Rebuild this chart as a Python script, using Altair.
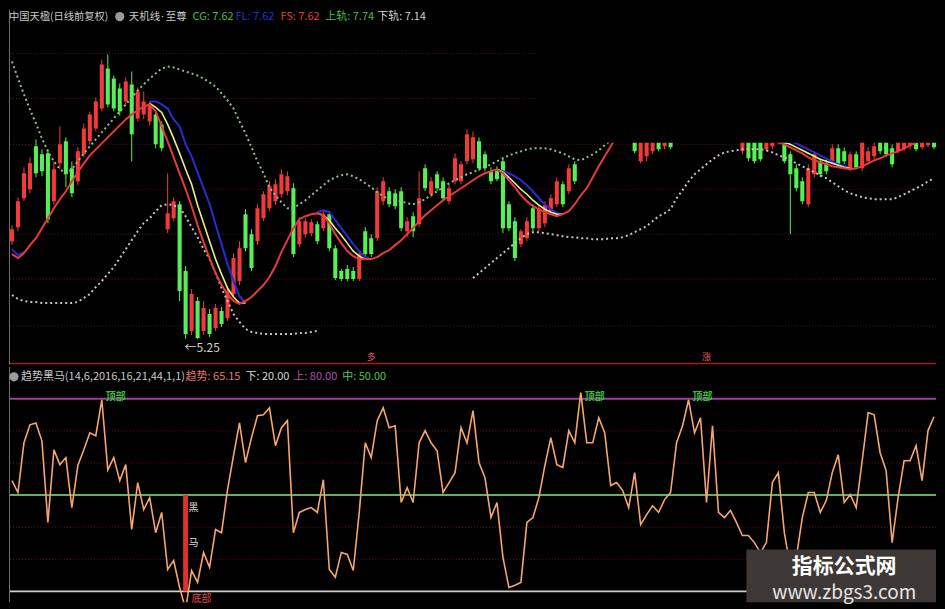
import altair as alt
import pandas as pd

# ---------------- page background (black body instead of white margin) ----------------
try:
    import altair.utils.html as _ah
    for _key, _tpl in list(getattr(_ah, "TEMPLATES", {}).items()):
        _r0 = _tpl.render

        def _wrapped(*a, _r=_r0, **k):
            out = _r(*a, **k)
            return out.replace(
                "</head>",
                "<style>html,body{background:#000 !important;overflow:hidden;}</style></head>", 1)
        _tpl.render = _wrapped
except Exception:
    pass

FONT = "Noto Sans CJK SC"

# ---------------- top panel data: daily candles (yuan) ----------------
run_starts = [0, 104, 122]
run_lengths = [95, 7, 33]

open_px = [
    6.23, 6.37, 6.66, 6.75, 7.18, 7.10, 7.11, 6.63, 7.01, 7.23,
    6.96, 6.83, 7.10, 7.23, 7.36, 7.56, 7.96, 7.86, 7.76, 7.63,
    7.80, 7.46, 7.50, 7.43, 7.50, 7.40, 6.35, 6.46, 6.60, 5.93,
    5.33, 5.63, 5.33, 5.50, 5.36, 5.53, 5.46, 5.70, 5.83, 6.50,
    6.30, 6.23, 6.46, 6.56, 6.63, 6.70, 6.73, 6.76, 6.20, 6.30,
    6.31, 6.40, 6.36, 6.50, 6.16, 5.93, 5.95, 5.93, 5.85, 6.33,
    6.26, 6.26, 6.63, 6.73, 6.71, 6.73, 6.33, 6.48, 6.40, 6.96,
    6.70, 6.90, 6.83, 6.63, 6.83, 6.83, 7.03, 7.05, 7.23, 7.10,
    6.93, 6.93, 7.03, 6.60, 6.43, 6.20, 6.26, 6.56, 6.36, 6.41,
    6.53, 6.60, 6.80, 6.73, 7.00,
    7.28, 7.03, 7.08, 7.13, 7.28, 7.18, 7.33,
    7.13, 7.25, 7.23, 7.25, 7.15, 7.18, 7.23, 7.28, 7.10, 6.96,
    6.83, 6.60, 6.90, 7.03, 7.01, 7.03, 7.16, 7.13, 6.95, 7.10,
    6.96, 7.03, 7.08, 7.25, 7.23, 7.16, 7.13, 7.15, 7.18, 7.25,
    7.17, 7.19, 7.27,
]
close_px = [
    6.35, 6.63, 6.91, 7.01, 6.91, 6.93, 6.45, 6.95, 7.20, 6.90,
    6.71, 7.13, 7.36, 7.50, 7.63, 8.00, 7.60, 7.56, 7.53, 7.83,
    7.30, 7.73, 7.63, 7.60, 7.20, 7.16, 6.51, 6.63, 5.73, 5.30,
    5.70, 5.26, 5.56, 5.30, 5.56, 5.40, 5.73, 6.06, 6.16, 6.16,
    5.96, 6.56, 6.70, 6.78, 6.80, 6.90, 6.88, 6.10, 6.43, 6.43,
    6.42, 6.23, 6.50, 6.16, 5.86, 5.85, 5.85, 5.85, 6.10, 6.10,
    6.10, 6.73, 6.83, 6.60, 6.58, 6.36, 6.43, 6.33, 6.66, 6.76,
    6.83, 6.76, 6.66, 6.76, 7.06, 7.00, 7.30, 7.27, 6.96, 6.96,
    6.83, 6.85, 6.36, 6.36, 6.06, 6.33, 6.43, 6.36, 6.56, 6.59,
    6.66, 6.83, 6.60, 6.96, 6.83,
    7.13, 7.28, 7.33, 7.33, 7.15, 7.33, 7.17,
    7.28, 7.06, 7.03, 7.05, 7.28, 7.33, 7.35, 7.03, 6.90, 6.76,
    6.63, 6.96, 7.10, 6.90, 6.93, 7.16, 7.00, 7.03, 7.10, 6.97,
    7.23, 7.13, 7.18, 7.13, 7.10, 7.00, 7.23, 7.25, 7.28, 7.15,
    7.27, 7.29, 7.17,
]
high_px = [
    6.39, 6.67, 6.97, 7.07, 7.25, 7.15, 7.15, 7.03, 7.38, 7.27,
    7.03, 7.17, 7.41, 7.53, 7.67, 8.05, 8.10, 7.89, 7.81, 7.87,
    7.93, 7.77, 7.73, 7.63, 7.53, 7.43, 6.91, 6.67, 6.63, 5.98,
    5.75, 5.67, 5.63, 5.55, 5.60, 5.57, 5.78, 6.11, 6.23, 6.55,
    6.35, 6.60, 6.73, 6.83, 6.85, 6.95, 6.93, 6.81, 6.47, 6.46,
    6.45, 6.43, 6.53, 6.53, 6.19, 5.95, 5.99, 5.97, 6.13, 6.37,
    6.30, 6.77, 6.87, 6.77, 6.75, 6.77, 6.47, 6.52, 6.93, 7.00,
    6.87, 6.93, 6.87, 6.80, 7.11, 7.03, 7.35, 7.33, 7.27, 7.13,
    6.97, 6.98, 7.07, 6.63, 6.47, 6.35, 6.47, 6.60, 6.60, 6.63,
    6.70, 6.87, 6.83, 7.00, 7.03,
    7.33, 7.33, 7.35, 7.35, 7.33, 7.38, 7.38,
    7.33, 7.29, 7.28, 7.29, 7.33, 7.35, 7.38, 7.33, 7.13, 7.00,
    6.87, 7.00, 7.13, 7.06, 7.05, 7.20, 7.20, 7.17, 7.13, 7.13,
    7.28, 7.17, 7.23, 7.28, 7.27, 7.20, 7.28, 7.31, 7.33, 7.29,
    7.33, 7.35, 7.31,
]
low_px = [
    6.19, 6.33, 6.63, 6.71, 6.87, 6.88, 6.41, 6.59, 6.95, 6.77,
    6.67, 6.79, 7.07, 7.20, 7.33, 7.53, 7.57, 7.53, 7.49, 7.59,
    7.03, 7.43, 7.45, 7.39, 7.16, 7.13, 6.31, 6.43, 5.63, 5.25,
    5.29, 5.25, 5.29, 5.27, 5.33, 5.37, 5.43, 5.67, 5.79, 6.13,
    5.93, 6.19, 6.43, 6.53, 6.59, 6.67, 6.69, 6.07, 6.17, 6.27,
    6.28, 6.20, 6.33, 6.13, 5.84, 5.83, 5.83, 5.83, 5.83, 6.07,
    6.07, 6.23, 6.59, 6.57, 6.55, 6.33, 6.27, 6.27, 6.37, 6.73,
    6.67, 6.73, 6.63, 6.60, 6.80, 6.80, 7.00, 7.01, 6.93, 6.93,
    6.80, 6.83, 6.31, 6.33, 6.03, 6.17, 6.23, 6.33, 6.33, 6.37,
    6.50, 6.57, 6.57, 6.70, 6.80,
    7.11, 7.01, 7.03, 7.10, 7.13, 7.15, 7.15,
    7.10, 7.03, 7.01, 7.03, 7.13, 7.15, 7.20, 7.01, 6.30, 6.73,
    6.60, 6.57, 6.87, 6.87, 6.90, 7.00, 6.97, 7.00, 6.93, 6.95,
    6.93, 7.01, 7.05, 7.10, 7.07, 6.97, 7.11, 7.13, 7.15, 7.13,
    7.15, 7.17, 7.15,
]

# indicator lines: {start bar index: values}
fs_line = {  # red (FS)
    0: [6.10, 6.06, 6.11, 6.19, 6.26, 6.36, 6.46, 6.56, 6.65, 6.73,
        6.83, 6.92, 7.01, 7.09, 7.15, 7.21, 7.27, 7.33, 7.39, 7.45,
        7.50, 7.54, 7.58, 7.60, 7.53, 7.38, 7.23, 7.07, 6.91, 6.75,
        6.58, 6.39, 6.22, 6.06, 5.91, 5.79, 5.70, 5.63, 5.60, 5.63,
        5.67, 5.73, 5.79, 5.87, 5.98, 6.12, 6.24, 6.36, 6.45, 6.48,
        6.50, 6.51, 6.49, 6.41, 6.30, 6.21, 6.13, 6.08, 6.05, 6.05,
        6.05, 6.07, 6.11, 6.14, 6.19, 6.24, 6.30, 6.36, 6.43, 6.49,
        6.54, 6.59, 6.64, 6.68, 6.72, 6.76, 6.80, 6.84, 6.88, 6.91,
        6.93, 6.95, 6.91, 6.84, 6.77, 6.69, 6.63, 6.58, 6.55, 6.52,
        6.50, 6.48, 6.50, 6.53, 6.60, 6.69, 6.76, 6.87, 6.98, 7.08,
        7.18, 7.28],
    127: [7.28, 7.22, 7.20, 7.17, 7.14, 7.11, 7.07, 7.04, 7.02, 7.00,
          6.98, 6.97, 6.96, 6.95, 6.96, 6.98, 7.01, 7.04, 7.06, 7.09,
          7.11, 7.13, 7.16, 7.19, 7.22, 7.25],
}
cg_line = {  # yellow (CG)
    23: [7.61, 7.57, 7.52, 7.40, 7.26, 7.11, 6.95, 6.80, 6.59, 6.41,
         6.23, 6.05, 5.90, 5.76, 5.67, 5.61, 5.61],
    51: [6.51, 6.49, 6.44, 6.36, 6.29, 6.21, 6.13, 6.08, 6.05, 6.05],
    81: [6.95, 6.92, 6.87, 6.81, 6.75, 6.70, 6.64, 6.59, 6.55, 6.52, 6.50, 6.50],
    128: [7.23, 7.22, 7.20, 7.17, 7.14, 7.11, 7.08, 7.05, 7.03, 7.01, 6.99, 6.97, 6.96],
}
fl_line = {  # blue (FL)
    0: [6.15, 6.09, 6.12],
    23: [7.63, 7.63, 7.60, 7.56, 7.45, 7.38, 7.20, 7.08, 6.92, 6.76,
         6.60, 6.40, 6.20, 6.00, 5.83, 5.68, 5.61],
    51: [6.52, 6.54, 6.52, 6.44, 6.36, 6.28, 6.20, 6.13, 6.07, 6.05],
    81: [6.95, 6.93, 6.91, 6.88, 6.84, 6.79, 6.73, 6.66, 6.60, 6.55, 6.51, 6.50],
    128: [7.25, 7.25, 7.23, 7.21, 7.18, 7.15, 7.12, 7.09, 7.06, 7.03, 7.00, 6.98, 6.96],
}
upper_band = {  # 上轨 (green dotted)
    0: [8.03, 7.86, 7.70, 7.55, 7.41, 7.26, 7.13, 7.03, 6.95, 6.91,
        6.95, 7.03, 7.11, 7.18, 7.25, 7.32, 7.39, 7.46, 7.53, 7.60,
        7.67, 7.74, 7.80, 7.86, 7.91, 7.96, 7.98, 7.97, 7.95, 7.93,
        7.91, 7.89, 7.86, 7.82, 7.78, 7.71, 7.64, 7.56, 7.43, 7.31,
        7.17, 7.03, 6.91, 6.77, 6.69, 6.62, 6.56, 6.56, 6.60, 6.64,
        6.69, 6.74, 6.79, 6.84, 6.87, 6.89, 6.90, 6.88, 6.85, 6.81,
        6.77, 6.72, 6.68, 6.65, 6.64, 6.63, 6.61, 6.60, 6.62, 6.65,
        6.69, 6.73, 6.77, 6.81, 6.84, 6.87, 6.90, 6.92, 6.95, 6.97,
        7.00, 7.03, 7.06, 7.09, 7.11, 7.13, 7.15, 7.16, 7.16, 7.16,
        7.15, 7.13, 7.11, 7.08, 7.05, 7.04, 7.07, 7.10, 7.14, 7.19,
        7.24],
}
lower_band = {  # 下轨 (white dotted)
    0: [5.69, 5.65, 5.63, 5.62, 5.62, 5.61, 5.61, 5.61, 5.61, 5.61,
        5.61, 5.62, 5.66, 5.70, 5.77, 5.83, 5.90, 5.97, 6.06, 6.15,
        6.24, 6.33, 6.41, 6.46, 6.53, 6.59, 6.60, 6.59, 6.56, 6.48,
        6.37, 6.27, 6.15, 6.05, 5.91, 5.76, 5.63, 5.50, 5.42, 5.35,
        5.32, 5.31, 5.30, 5.30, 5.30, 5.30, 5.30, 5.30, 5.31, 5.31,
        5.32, 5.33],
    77: [5.86, 5.91, 5.96, 6.01, 6.06, 6.11, 6.16, 6.21, 6.26, 6.30,
         6.32, 6.32, 6.31, 6.30, 6.29, 6.28, 6.27, 6.27, 6.26, 6.26,
         6.25, 6.25, 6.25, 6.26, 6.26, 6.27, 6.29, 6.32, 6.35, 6.38,
         6.43, 6.48, 6.51, 6.55, 6.66, 6.74, 6.83, 6.90, 6.95, 7.00,
         7.05, 7.09, 7.12, 7.13, 7.14, 7.15, 7.15, 7.15, 7.15, 7.14,
         7.12, 7.09, 7.07, 7.04, 7.01, 6.98, 6.95, 6.92, 6.89, 6.86,
         6.82, 6.78, 6.74, 6.71, 6.69, 6.67, 6.66, 6.65, 6.65, 6.65,
         6.65, 6.67, 6.70, 6.73, 6.76, 6.79, 6.83, 6.86],
}
price_grid = [8.11, 7.66, 7.20, 6.75, 6.30, 5.85, 5.38]
low_mark = {"i": [29], "p": [5.25], "t": ["←5.25"]}
hidden_region = {"x0": [87.5], "x1": [155.0], "p0": [7.215], "p1": [8.60]}
marker_idx = [60, 116]
marker_txt = ["多", "涨"]

# ---------------- bottom panel data: 趋势黑马 oscillator ----------------
trend = [
    54.5, 50.8, 66.3, 71.9, 72.5, 66.9, 41.5, 64.1, 59.5, 61.7,
    46.1, 59.2, 64.1, 69.4, 68.5, 79.7, 57.9, 61.7, 54.5, 59.5,
    39.3, 53.9, 45.5, 49.2, 38.3, 44.6, 26.8, 29.6, 21.2, 14.4,
    26.5, 22.8, 32.1, 27.5, 39.3, 38.3, 51.7, 62.3, 72.5, 60.1,
    67.9, 74.7, 75.0, 77.2, 65.4, 71.0, 73.2, 38.3, 44.6, 45.5,
    46.1, 44.6, 54.8, 26.8, 24.4, 32.1, 31.5, 26.5, 44.6, 66.3,
    61.7, 73.2, 77.2, 71.0, 71.6, 47.7, 52.3, 47.7, 66.3, 70.1,
    66.3, 63.8, 50.8, 53.9, 57.0, 71.0, 66.3, 76.3, 60.1, 55.4,
    43.0, 47.7, 30.6, 21.2, 21.9, 22.8, 41.5, 43.0, 49.2, 59.2,
    67.9, 59.5, 58.6, 70.1, 66.3, 81.9, 66.3, 66.3, 74.1, 69.4,
    53.0, 53.9, 51.4, 46.1, 57.0, 40.8, 43.9, 46.7, 44.6, 48.6,
    50.8, 66.3, 71.6, 79.7, 69.4, 74.1, 47.7, 71.6, 44.6, 43.0,
    45.2, 41.5, 37.4, 37.4, 35.2, 32.1, 35.2, 53.9, 57.0, 38.3,
    27.5, 30.6, 43.0, 50.8, 50.8, 44.6, 48.3, 57.0, 62.6, 47.7,
    50.2, 46.1, 60.7, 75.7, 75.0, 63.2, 57.6, 35.2, 49.2, 60.7,
    60.7, 65.4, 54.5, 70.1, 74.4,
]
level_up, level_mid, level_down = 80, 50, 20
osc_grid = [30, 40, 60, 70]
top_idx = [15, 95, 113]        # 顶部
bottom_idx = [29]              # 底部 / 黑马
heima_label = {"i": [29, 29], "v": [46.0, 35.2], "t": ["黑", "马"]}

# ---------------- frames ----------------
def seg_frame(segs):
    rows = []
    for k, (start, vals) in enumerate(segs.items()):
        for j, v in enumerate(vals):
            rows.append({"i": start + j, "v": v, "seg": k})
    return pd.DataFrame(rows)

idx = []
for s, n in zip(run_starts, run_lengths):
    idx += list(range(s, s + n))
cdf = pd.DataFrame({"i": idx, "o": open_px, "c": close_px, "h": high_px, "l": low_px})
cdf["dir"] = ["up" if c >= o else "down" for o, c in zip(cdf["o"], cdf["c"])]
cdf["x0"] = cdf["i"] - 0.34
cdf["x1"] = cdf["i"] + 0.34

odf = pd.DataFrame({"i": list(range(len(trend))), "v": trend})
one = pd.DataFrame({"k": [0]})

W, H1, H2 = 929, 356, 236
xs = alt.Scale(domain=[-0.5, 154.33], nice=False, zero=False)
ys = alt.Scale(domain=[4.99, 8.55], nice=False, zero=False)
vs = alt.Scale(domain=[16.58, 89.95], nice=False, zero=False)
candle_color = alt.Color("dir:N", scale=alt.Scale(domain=["up", "down"], range=["#f23a3a", "#55f055"]), legend=None)


def X(f):
    return alt.X(f, scale=xs, axis=None)


def label(text, x, y, color, size=11, weight="normal", align="left", font=FONT):
    return alt.Chart(one).mark_text(text=text, align=align, baseline="middle", fontSize=size,
                                    fontWeight=weight, color=color, font=font).encode(
        x=alt.value(x), y=alt.value(y))


def icon(x, y):
    return alt.Chart(one).mark_point(filled=True, shape="circle", size=85, color="#9a9a9a", opacity=1).encode(
        x=alt.value(x), y=alt.value(y))

# ---------------- top panel ----------------
grid_top = alt.Chart(pd.DataFrame({"p": price_grid})).mark_rule(
    color="#5e1616", strokeDash=[1, 2], strokeWidth=1).encode(y=alt.Y("p:Q", scale=ys, axis=None))
wicks = alt.Chart(cdf).mark_rule(strokeWidth=1, clip=True).encode(
    x=X("i:Q"), y=alt.Y("l:Q", scale=ys, axis=None), y2="h:Q", color=candle_color)
bodies = alt.Chart(cdf).mark_rect(clip=True).encode(
    x=X("x0:Q"), x2="x1:Q", y=alt.Y("o:Q", scale=ys, axis=None), y2="c:Q", color=candle_color)


def band(segs, color):
    return alt.Chart(seg_frame(segs)).mark_line(color=color, strokeWidth=2, strokeDash=[2, 3], clip=True).encode(
        x=X("i:Q"), y=alt.Y("v:Q", scale=ys, axis=None), detail="seg:N")


def ind(segs, color, w):
    return alt.Chart(seg_frame(segs)).mark_line(color=color, strokeWidth=w, clip=True).encode(
        x=X("i:Q"), y=alt.Y("v:Q", scale=ys, axis=None), detail="seg:N")


mask = alt.Chart(pd.DataFrame(hidden_region)).mark_rect(color="#000000", clip=True).encode(
    x=X("x0:Q"), x2="x1:Q", y=alt.Y("p0:Q", scale=ys, axis=None), y2="p1:Q")
low_txt = alt.Chart(pd.DataFrame(low_mark)).mark_text(
    align="left", baseline="middle", dx=-1, dy=9, fontSize=12, color="#d0d0d0", font=FONT).encode(
    x=X("i:Q"), y=alt.Y("p:Q", scale=ys, axis=None), text="t:N")
markers = alt.Chart(pd.DataFrame({"i": marker_idx, "t": marker_txt})).mark_text(
    fontSize=9, color="#e05a5a", font=FONT, baseline="middle").encode(
    x=X("i:Q"), y=alt.value(348), text="t:N")
sep = alt.Chart(one).mark_rule(color="#a01e1e", strokeWidth=1.5).encode(
    x=alt.value(0), x2=alt.value(W), y=alt.value(354.5))
border_top = alt.Chart(one).mark_rule(color="#6e6e6e", strokeWidth=1).encode(
    x=alt.value(0.5), y=alt.value(0), y2=alt.value(H1))

top = alt.layer(
    grid_top, wicks, bodies,
    band(upper_band, "#8fbf8f"), band(lower_band, "#c4c4c4"),
    ind(fl_line, "#2a2ad4", 2), ind(cg_line, "#e4ee96", 1.6), ind(fs_line, "#e83a3a", 2),
    mask, low_txt, markers, sep, border_top,
    label("中国天楹(日线前复权)", 0, 7, "#c8c8c8", 10.3),
    icon(111, 7),
    label("天机线", 120, 7, "#c8c8c8", 10.5),
    label("·", 152, 7, "#c8c8c8", 11, font="DejaVu Sans"),
    label("至尊", 157, 7, "#c8c8c8", 10.5),
    label("CG: 7.62", 184, 7, "#3ec03e"),
    label("FL: 7.62", 227, 7, "#2c2cd8"),
    label("FS: 7.62", 272, 7, "#e03c3c"),
    label("上轨: 7.74", 317, 7, "#3ec03e"),
    label("下轨: 7.14", 369, 7, "#d0d0d0"),
).properties(width=W, height=H1)

# ---------------- bottom panel ----------------
grid_bot = alt.Chart(pd.DataFrame({"v": osc_grid})).mark_rule(
    color="#5e1616", strokeDash=[1, 2], strokeWidth=1).encode(y=alt.Y("v:Q", scale=vs, axis=None))


def level(v, color, w=2):
    return alt.Chart(pd.DataFrame({"v": [v]})).mark_rule(color=color, strokeWidth=w).encode(
        y=alt.Y("v:Q", scale=vs, axis=None))


sig_bar = alt.Chart(pd.DataFrame({"i": bottom_idx, "lo": [level_down] * len(bottom_idx),
                                  "hi": [level_mid] * len(bottom_idx)})).mark_rule(
    color="#e0302a", strokeWidth=5).encode(x=X("i:Q"), y=alt.Y("lo:Q", scale=vs, axis=None), y2="hi:Q")
osc_line = alt.Chart(odf).mark_line(color="#f6a56b", strokeWidth=1.6, clip=True).encode(
    x=X("i:Q"), y=alt.Y("v:Q", scale=vs, axis=None))
tops = alt.Chart(pd.DataFrame({"i": top_idx, "v": [80.6] * len(top_idx)})).mark_text(
    text="顶部", align="left", baseline="middle", dx=4, fontSize=10, fontWeight="bold",
    color="#36c236", font=FONT).encode(x=X("i:Q"), y=alt.Y("v:Q", scale=vs, axis=None))
bottoms = alt.Chart(pd.DataFrame({"i": bottom_idx, "v": [level_down] * len(bottom_idx)})).mark_text(
    text="底部", align="left", baseline="middle", dx=6, dy=8, fontSize=10, color="#e04848", font=FONT).encode(
    x=X("i:Q"), y=alt.Y("v:Q", scale=vs, axis=None))
heima = alt.Chart(pd.DataFrame(heima_label)).mark_text(
    align="left", baseline="middle", dx=3, fontSize=10, color="#d8d8d8", font=FONT).encode(
    x=X("i:Q"), y=alt.Y("v:Q", scale=vs, axis=None), text="t:N")
wm_box = alt.Chart(one).mark_rect(color="#3d3835").encode(
    x=alt.value(739), x2=alt.value(W), y=alt.value(183), y2=alt.value(H2))
border_bot = alt.Chart(one).mark_rule(color="#6e6e6e", strokeWidth=1).encode(
    x=alt.value(0.5), y=alt.value(0), y2=alt.value(H2))

bottom = alt.layer(
    grid_bot,
    level(level_up, "#a03ea0"), level(level_mid, "#62b062"), level(level_down, "#cfcfcf", 1.8),
    sig_bar, osc_line, tops, bottoms, heima, border_bot,
    icon(5, 10),
    label("趋势黑马(14,6,2016,16,21,44,1,1)", 12, 10, "#c8c8c8"),
    label("趋势: 65.15", 177, 10, "#e2786c"),
    label("下: 20.00", 237, 10, "#d8d8d8"),
    label("上: 80.00", 285, 10, "#b050b0"),
    label("中: 50.00", 334, 10, "#58c058"),
    wm_box,
    label("指标公式网", 837, 201, "#ffffff", 21, "bold", "center"),
    label("www.zbgs3.com", 837, 227, "#e6e6e6", 19, "normal", "center"),
).properties(width=W, height=H2)

chart = alt.vconcat(top, bottom, spacing=0).properties(padding=0).configure(
    background="#000000").configure_view(strokeWidth=0)

chart.save("out.html", embed_options={"renderer": "svg", "actions": False})
